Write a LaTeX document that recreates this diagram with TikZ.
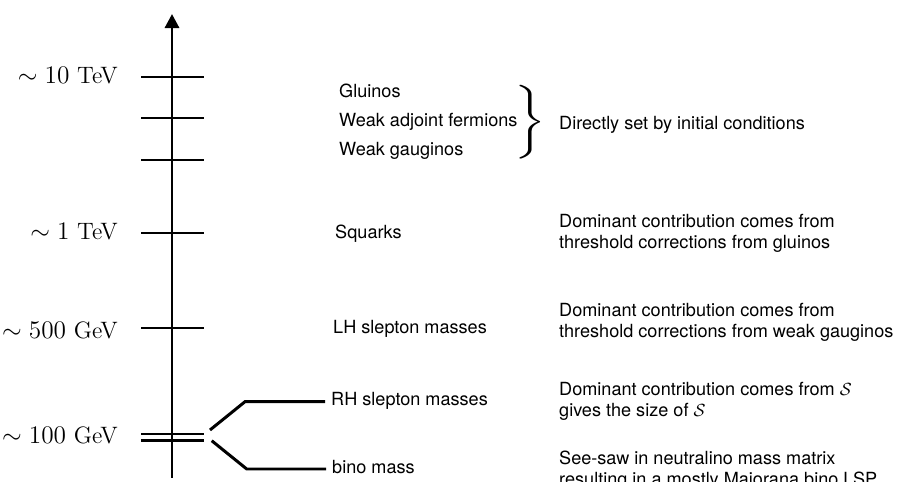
\documentclass[tikz,border=0pt]{standalone}
\usepackage{amsmath}
\usepackage{fontspec}
\setsansfont{TeX Gyre Heros}
\usepackage{tikz}
\usetikzlibrary{arrows.meta, positioning, calc}
\tikzset{
  axisline/.style={line width=1.7pt, -{Triangle[width=8pt,length=8pt]}},
  tick/.style={line width=1.7pt},
  branch/.style={line width=1.7pt},
  scalelabel/.style={font=\fontsize{13.5}{16}\selectfont, anchor=base east},
  particle/.style={font=\sffamily\fontsize{10.3}{12}\selectfont, anchor=base west},
  note/.style={font=\sffamily\fontsize{10.3}{12}\selectfont, anchor=base west, align=left}
}

\begin{document}
\begin{tikzpicture}
  \useasboundingbox (0,0) rectangle (18,9.64);

  % Energy axis
  \coordinate (axisbot) at (3.44,0.08);
  \coordinate (axistop) at (3.44,9.36);
  \draw[axisline] (axisbot) -- (axistop);
  \foreach \y in {8.1, 7.28, 6.44, 4.98, 3.08, 0.96, 0.83} {
    \draw[tick] (2.82,\y) -- (4.08,\y);
  }

  % Scale labels
  \node[scalelabel] (tentev) at (2.48,7.96) {$\sim 10$ TeV};
  \node[scalelabel] (onetev) at (2.48,4.84) {$\sim 1$ TeV};
  \node[scalelabel] (fivegev) at (2.48,2.874) {$\sim 500$ GeV};
  \node[scalelabel] (hundgev) at (2.48,0.76) {$\sim 100$ GeV};

  % Spectrum
  \node[particle] (gluino) at (6.66,7.694) {Gluinos};
  \node[particle] (adjoint) at (6.66,7.106) {Weak adjoint fermions};
  \node[particle] (gaugino) at (6.66,6.526) {Weak gauginos};
  \node[particle] (squark) at (6.58,4.86) {Squarks};
  \node[particle] (lhslep) at (6.54,2.96) {LH slepton masses};
  \node[particle] (rhslep) at (6.5,1.52) {RH slepton masses};
  \node[particle] (bino) at (6.52,0.16) {bino mass};

  % Splitting at 100 GeV
  \coordinate (upstart) at (4.2,1.04);
  \coordinate (upbend) at (4.9,1.606);
  \coordinate (lostart) at (4.234,0.826);
  \coordinate (lobend) at (4.934,0.26);
  \draw[branch] (upstart) -- (upbend) -- (upbend -| rhslep.west);
  \draw[branch] (lostart) -- (lobend) -- (lobend -| bino.west);

  % Brace
  \node[inner sep=0pt, xscale=2.4, yscale=1.75, transform shape] (brace) at (10.55,7.2)
    {$\left.\rule[-9.5pt]{0pt}{24pt}\right\}$};

  % Explanations
  \node[note] (initial) at (11.06,7.054) {Directly set by initial conditions};
  \node[note] (glnote) at (11.06,4.674) {Dominant contribution comes from\\threshold corrections from gluinos};
  \node[note] (lhnote) at (11.06,2.894) {Dominant contribution comes from\\threshold corrections from weak gauginos};
  \node[note] (rhnote) at (11.06,1.306) {Dominant contribution comes from $\mathcal{S}$\\gives the size of $\mathcal{S}$};
  \node[note] (binonote) at (11.06,-0.08) {See-saw in neutralino mass matrix\\resulting in a mostly Majorana bino LSP};
\end{tikzpicture}
\end{document}
